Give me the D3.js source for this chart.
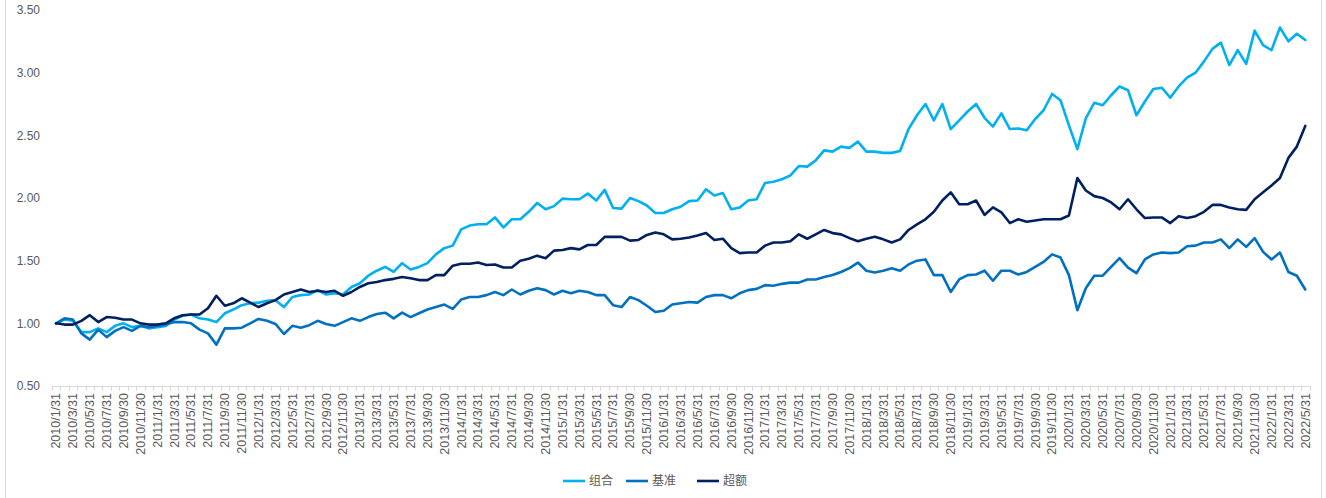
<!DOCTYPE html>
<html><head><meta charset="utf-8">
<script src="https://cdn.jsdelivr.net/npm/d3@7"></script>
<style>html,body{margin:0;padding:0;background:#fff;}svg{display:block;}</style>
</head><body>
<svg id="c" width="1326" height="498"></svg>
<script>
const categories = [
"2010/1/31","2010/2/28","2010/3/31","2010/4/30","2010/5/31","2010/6/30","2010/7/31","2010/8/31","2010/9/30","2010/10/31","2010/11/30","2010/12/31",
"2011/1/31","2011/2/28","2011/3/31","2011/4/30","2011/5/31","2011/6/30","2011/7/31","2011/8/31","2011/9/30","2011/10/31","2011/11/30","2011/12/31",
"2012/1/31","2012/2/29","2012/3/31","2012/4/30","2012/5/31","2012/6/30","2012/7/31","2012/8/31","2012/9/30","2012/10/31","2012/11/30","2012/12/31",
"2013/1/31","2013/2/28","2013/3/31","2013/4/30","2013/5/31","2013/6/30","2013/7/31","2013/8/31","2013/9/30","2013/10/31","2013/11/30","2013/12/31",
"2014/1/31","2014/2/28","2014/3/31","2014/4/30","2014/5/31","2014/6/30","2014/7/31","2014/8/31","2014/9/30","2014/10/31","2014/11/30","2014/12/31",
"2015/1/31","2015/2/28","2015/3/31","2015/4/30","2015/5/31","2015/6/30","2015/7/31","2015/8/31","2015/9/30","2015/10/31","2015/11/30","2015/12/31",
"2016/1/31","2016/2/29","2016/3/31","2016/4/30","2016/5/31","2016/6/30","2016/7/31","2016/8/31","2016/9/30","2016/10/31","2016/11/30","2016/12/31",
"2017/1/31","2017/2/28","2017/3/31","2017/4/30","2017/5/31","2017/6/30","2017/7/31","2017/8/31","2017/9/30","2017/10/31","2017/11/30","2017/12/31",
"2018/1/31","2018/2/28","2018/3/31","2018/4/30","2018/5/31","2018/6/30","2018/7/31","2018/8/31","2018/9/30","2018/10/31","2018/11/30","2018/12/31",
"2019/1/31","2019/2/28","2019/3/31","2019/4/30","2019/5/31","2019/6/30","2019/7/31","2019/8/31","2019/9/30","2019/10/31","2019/11/30","2019/12/31",
"2020/1/31","2020/2/29","2020/3/31","2020/4/30","2020/5/31","2020/6/30","2020/7/31","2020/8/31","2020/9/30","2020/10/31","2020/11/30","2020/12/31",
"2021/1/31","2021/2/28","2021/3/31","2021/4/30","2021/5/31","2021/6/30","2021/7/31","2021/8/31","2021/9/30","2021/10/31","2021/11/30","2021/12/31",
"2022/1/31","2022/2/28","2022/3/31","2022/4/30","2022/5/31"
];

const seriesNames = ["组合","基准","超额"];

const portfolio = [
1.00,1.03,1.02,0.93,0.93,0.96,0.93,0.98,1.00,0.97,0.98,0.96,
0.97,0.98,1.03,1.06,1.07,1.04,1.03,1.01,1.08,1.11,1.145,1.16,
1.165,1.18,1.185,1.13,1.21,1.225,1.23,1.265,1.23,1.24,1.23,1.29,
1.32,1.38,1.42,1.45,1.41,1.48,1.43,1.45,1.48,1.55,1.60,1.62,
1.75,1.78,1.79,1.79,1.845,1.765,1.83,1.83,1.89,1.96,1.91,1.935,
1.995,1.99,1.99,2.035,1.98,2.065,1.92,1.915,2.00,1.975,1.94,1.88,
1.88,1.91,1.93,1.975,1.98,2.07,2.02,2.04,1.91,1.925,1.98,1.99,
2.12,2.13,2.15,2.18,2.255,2.25,2.30,2.38,2.37,2.41,2.40,2.45,
2.37,2.37,2.36,2.36,2.375,2.55,2.66,2.75,2.62,2.75,2.55,2.62,
2.69,2.75,2.64,2.57,2.675,2.55,2.555,2.54,2.63,2.70,2.83,2.78,
2.58,2.39,2.635,2.76,2.74,2.82,2.89,2.86,2.66,2.77,2.87,2.88,
2.80,2.89,2.96,3.00,3.09,3.19,3.24,3.06,3.18,3.07,3.335,3.22,
3.18,3.36,3.25,3.31,3.26
];

const benchmark = [
1.00,1.04,1.03,0.92,0.87,0.95,0.89,0.94,0.97,0.94,0.98,0.97,
0.98,0.99,1.01,1.01,1.00,0.95,0.92,0.83,0.96,0.96,0.965,1.00,
1.035,1.02,0.995,0.915,0.98,0.965,0.985,1.02,0.995,0.98,1.01,1.04,
1.02,1.05,1.075,1.085,1.04,1.085,1.05,1.08,1.11,1.13,1.15,1.115,
1.19,1.21,1.21,1.225,1.25,1.225,1.27,1.23,1.26,1.28,1.265,1.23,
1.26,1.24,1.26,1.25,1.225,1.225,1.145,1.13,1.21,1.185,1.14,1.09,
1.10,1.15,1.16,1.17,1.165,1.21,1.225,1.225,1.20,1.24,1.265,1.275,
1.305,1.30,1.315,1.325,1.325,1.35,1.35,1.37,1.385,1.41,1.44,1.485,
1.42,1.405,1.42,1.44,1.42,1.47,1.50,1.51,1.385,1.385,1.25,1.35,
1.385,1.39,1.42,1.34,1.42,1.42,1.39,1.41,1.45,1.49,1.55,1.525,
1.385,1.105,1.28,1.38,1.38,1.45,1.52,1.445,1.40,1.51,1.55,1.565,
1.56,1.565,1.615,1.62,1.645,1.645,1.67,1.60,1.67,1.61,1.68,1.57,
1.51,1.565,1.41,1.38,1.27
];

const excess = [
1.00,0.99,0.99,1.02,1.065,1.01,1.05,1.045,1.03,1.03,1.00,0.99,
0.99,1.00,1.04,1.065,1.07,1.07,1.12,1.22,1.14,1.16,1.20,1.165,
1.13,1.16,1.185,1.23,1.25,1.27,1.25,1.26,1.25,1.26,1.22,1.25,
1.29,1.32,1.33,1.345,1.355,1.37,1.36,1.345,1.345,1.385,1.385,1.46,
1.475,1.475,1.485,1.465,1.47,1.445,1.445,1.50,1.515,1.54,1.52,1.58,
1.585,1.60,1.59,1.625,1.625,1.69,1.69,1.69,1.66,1.665,1.705,1.725,
1.71,1.67,1.675,1.685,1.70,1.72,1.665,1.675,1.60,1.56,1.565,1.565,
1.62,1.645,1.645,1.655,1.71,1.675,1.71,1.745,1.72,1.71,1.68,1.655,
1.675,1.69,1.67,1.645,1.67,1.745,1.79,1.83,1.89,1.98,2.045,1.95,
1.95,1.98,1.865,1.925,1.885,1.80,1.83,1.81,1.82,1.83,1.83,1.83,
1.86,2.16,2.06,2.015,2.00,1.965,1.91,1.99,1.91,1.84,1.845,1.845,
1.80,1.855,1.84,1.855,1.89,1.945,1.945,1.925,1.91,1.905,1.99,2.045,
2.10,2.16,2.32,2.41,2.575
];

const yTicks = [0.5,1.0,1.5,2.0,2.5,3.0,3.5];
const colors = ["#00B0F0","#0070C0","#002060"];

const svg = d3.select("#c");
const W = 1326, H = 498;
const x0 = 51.8, x1 = 1309.5, yTop = 10, yBot = 386;

// frame
svg.append("rect").attr("x",5.5).attr("y",-2).attr("width",1316).attr("height",H+4)
  .attr("fill","none").attr("stroke","#d9d9d9").attr("stroke-width",1);

const x = d3.scaleBand().domain(categories).range([x0,x1]).paddingInner(0).paddingOuter(0);
const cx = d => x(d) + x.bandwidth()/2;
const y = d3.scaleLinear().domain([0.5,3.5]).range([yBot,yTop]);

// y labels
const yAxis = d3.axisLeft(y).tickValues(yTicks).tickFormat(d3.format(".2f")).tickSize(0).tickPadding(0);
const gy = svg.append("g").attr("transform","translate(40,0)").call(yAxis);
gy.select(".domain").remove();
gy.selectAll("text").attr("fill","#595959").style("font-family","'Liberation Sans', Arial, sans-serif").style("font-size","12px");

// x axis line and ticks
svg.append("line").attr("x1",x0).attr("x2",x1).attr("y1",yBot+0.5).attr("y2",yBot+0.5)
  .attr("stroke","#d9d9d9").attr("stroke-width",1);
const boundaries = categories.map(c => x(c)).concat([x1]);
svg.append("g").selectAll("line").data(boundaries).join("line")
  .attr("x1",d=>Math.round(d)+0.5).attr("x2",d=>Math.round(d)+0.5)
  .attr("y1",yBot).attr("y2",yBot+5).attr("stroke","#d9d9d9").attr("stroke-width",1);

// x labels (every other category)
svg.append("g").selectAll("text").data(categories.filter((c,i)=>i%2===0)).join("text")
  .attr("transform",d=>`translate(${cx(d)},${yBot+7}) rotate(-90)`)
  .attr("text-anchor","end").attr("dy","0.35em")
  .attr("fill","#595959")
  .style("font-family","'Liberation Sans', Arial, sans-serif").style("font-size","12.5px")
  .text(d=>d);

// lines
const allSeries = [portfolio, benchmark, excess];
const line = d3.line().x((d,i)=>cx(categories[i])).y(d=>y(d));
allSeries.forEach((s,k)=>{
  svg.append("path").datum(s).attr("d",line).attr("fill","none")
    .attr("stroke",colors[k]).attr("stroke-width",2.6)
    .attr("stroke-linejoin","round").attr("stroke-linecap","round");
});

// legend
const legX = [563, 626, 697];
const lg = svg.append("g");
seriesNames.forEach((n,k)=>{
  lg.append("line").attr("x1",legX[k]).attr("x2",legX[k]+22).attr("y1",481).attr("y2",481)
    .attr("stroke",colors[k]).attr("stroke-width",2.6);
  lg.append("text").attr("x",legX[k]+26).attr("y",481).attr("dy","0.35em")
    .attr("fill","#595959").style("font-family","'Noto Sans CJK SC', sans-serif").style("font-size","12px")
    .text(n);
});
</script>
</body></html>
